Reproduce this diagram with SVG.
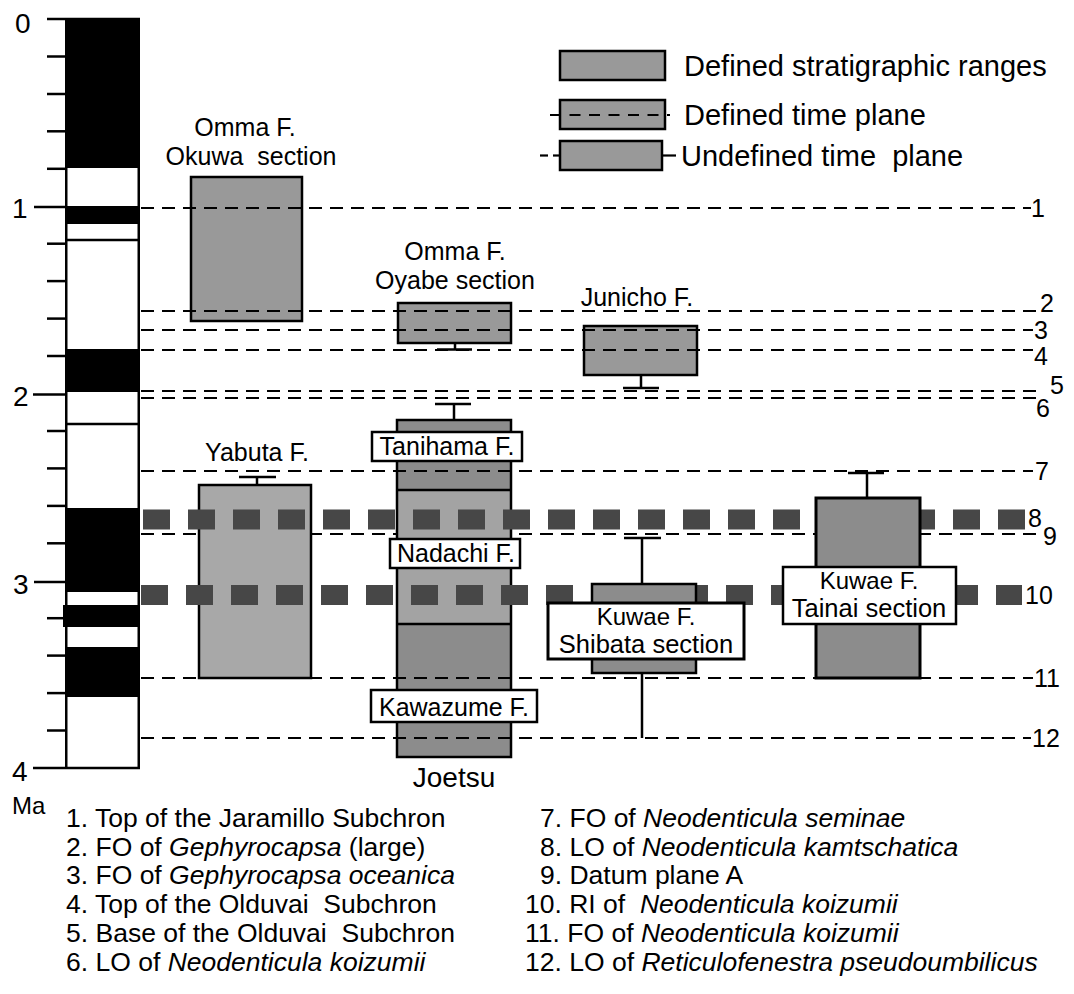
<svg xmlns="http://www.w3.org/2000/svg" width="1074" height="994" viewBox="0 0 1074 994">
<style>
text{font-family:"Liberation Sans",Arial,sans-serif;fill:#000}
.ax{font-size:28px}
.lbl{font-size:25px;text-anchor:middle}
.leg{font-size:29px}
.num{font-size:25px}
.lst{font-size:26.5px}
.it{font-style:italic}
.thin{stroke:#000;stroke-width:2.2;stroke-dasharray:13 8;fill:none}
.band{stroke:#474747;stroke-width:20;stroke-dasharray:27 18;fill:none}
.box{stroke:#000;stroke-width:2.5}
.tk{stroke:#000;stroke-width:2.5}
.wh{stroke:#000;stroke-width:2.5;fill:none}
.lab{fill:#fff;stroke:#000;stroke-width:2.5}
.g1{fill:#999}
.g2{fill:#8c8c8c}
.g3{fill:#a8a8a8}
.g4{fill:#a3a3a3}
</style>
<rect width="1074" height="994" fill="#fff"/>

<g id="axis">
  <g class="tk">
    <line x1="47" y1="19" x2="65" y2="19"/>
    <line x1="47" y1="56.5" x2="65" y2="56.5"/>
    <line x1="47" y1="94" x2="65" y2="94"/>
    <line x1="47" y1="131.3" x2="65" y2="131.3"/>
    <line x1="47" y1="168.8" x2="65" y2="168.8"/>
    <line x1="34" y1="207" x2="65" y2="207"/>
    <line x1="47" y1="243.7" x2="65" y2="243.7"/>
    <line x1="47" y1="281.1" x2="65" y2="281.1"/>
    <line x1="47" y1="318.6" x2="65" y2="318.6"/>
    <line x1="47" y1="356" x2="65" y2="356"/>
    <line x1="33" y1="394.5" x2="65" y2="394.5"/>
    <line x1="47" y1="431" x2="65" y2="431"/>
    <line x1="47" y1="468.4" x2="65" y2="468.4"/>
    <line x1="47" y1="505.9" x2="65" y2="505.9"/>
    <line x1="47" y1="543.3" x2="65" y2="543.3"/>
    <line x1="34" y1="582" x2="65" y2="582"/>
    <line x1="47" y1="618.2" x2="65" y2="618.2"/>
    <line x1="47" y1="655.6" x2="65" y2="655.6"/>
    <line x1="47" y1="693.1" x2="65" y2="693.1"/>
    <line x1="47" y1="730.5" x2="65" y2="730.5"/>
    <line x1="33" y1="768" x2="65" y2="768"/>
  </g>
  <text class="ax" x="15" y="33">0</text>
  <text class="ax" x="12" y="218">1</text>
  <text class="ax" x="13" y="406">2</text>
  <text class="ax" x="13" y="594">3</text>
  <text class="ax" x="12" y="781">4</text>
  <text x="12" y="814" font-size="24">Ma</text>
</g>

<g id="polarity-column">
  <rect x="66.25" y="19" width="72.5" height="749" fill="#fff" stroke="#000" stroke-width="2.5"/>
  <rect x="65" y="19" width="75" height="149" fill="#000"/>
  <rect x="65" y="206" width="75" height="18" fill="#000"/>
  <line x1="66" y1="240" x2="139" y2="240" stroke="#000" stroke-width="2.5"/>
  <rect x="65" y="349" width="75" height="43" fill="#000"/>
  <line x1="66" y1="424" x2="139" y2="424" stroke="#000" stroke-width="2.5"/>
  <rect x="65" y="508" width="75" height="84" fill="#000"/>
  <rect x="63" y="605" width="77" height="22" fill="#000"/>
  <rect x="65" y="647" width="75" height="50" fill="#000"/>
</g>

<g id="legend">
  <rect class="box g1" x="560" y="51" width="105" height="29"/>
  <text class="leg" x="684" y="76">Defined stratigraphic ranges</text>
  <rect class="box g1" x="560" y="100" width="105" height="29"/>
  <line x1="550" y1="115" x2="670" y2="115" stroke="#000" stroke-width="2.2" stroke-dasharray="11 8.5"/>
  <text class="leg" x="684" y="125">Defined time plane</text>
  <rect class="box g1" x="560" y="141" width="102" height="29"/>
  <line x1="540" y1="155.5" x2="548" y2="155.5" stroke="#000" stroke-width="2.2"/>
  <line x1="553" y1="155.5" x2="560" y2="155.5" stroke="#000" stroke-width="2.2"/>
  <line x1="662" y1="155.5" x2="676" y2="155.5" stroke="#000" stroke-width="2.2"/>
  <text class="leg" x="681" y="166">Undefined time&#160; plane</text>
</g>

<g id="time-plane-9">
  <line class="thin" x1="141" y1="534" x2="1036" y2="534"/>
</g>

<g id="omma-okuwa">
  <rect class="box g1" x="191" y="177" width="111" height="144"/>
  <text class="lbl"><tspan x="245" y="136">Omma F.</tspan><tspan x="251" y="165">Okuwa&#160; section</tspan></text>
</g>

<g id="omma-oyabe">
  <rect class="box g1" x="398" y="303" width="113" height="40"/>
  <line class="wh" x1="455" y1="343" x2="455" y2="349.5"/>
  <line class="wh" x1="437" y1="349.5" x2="472" y2="349.5"/>
  <text class="lbl"><tspan x="455" y="260">Omma F.</tspan><tspan x="455" y="289">Oyabe section</tspan></text>
</g>

<g id="junicho">
  <rect class="box g1" x="584" y="326" width="113" height="49"/>
  <line class="wh" x1="641" y1="375" x2="641" y2="388"/>
  <line class="wh" x1="623" y1="388" x2="659" y2="388"/>
  <text class="lbl" x="637" y="306">Junicho F.</text>
</g>

<g id="yabuta">
  <rect class="box g3" x="199" y="485" width="112" height="193"/>
  <line class="wh" x1="257" y1="485" x2="257" y2="477"/>
  <line class="wh" x1="239" y1="477" x2="276" y2="477"/>
  <text class="lbl" x="257" y="461">Yabuta F.</text>
</g>

<g id="joetsu">
  <rect class="g2" x="397" y="420" width="114" height="70"/>
  <rect class="g4" x="397" y="490" width="114" height="134"/>
  <rect class="g2" x="397" y="624" width="114" height="133"/>
  <rect x="397" y="420" width="114" height="337" fill="none" stroke="#000" stroke-width="2.5"/>
  <line class="wh" x1="397" y1="490" x2="511" y2="490"/>
  <line class="wh" x1="397" y1="624" x2="511" y2="624"/>
  <line class="wh" x1="454" y1="420" x2="454" y2="404"/>
  <line class="wh" x1="435" y1="404" x2="471" y2="404"/>
  <text x="454" y="787" font-size="28" text-anchor="middle">Joetsu</text>
</g>

<g id="time-planes">
  <line class="thin" x1="141" y1="208" x2="1031" y2="208"/>
  <line class="thin" x1="141" y1="311" x2="1036" y2="311"/>
  <line class="thin" x1="141" y1="330" x2="1033" y2="330"/>
  <line class="thin" x1="141" y1="350" x2="1033" y2="350"/>
  <line class="thin" x1="141" y1="391" x2="1036" y2="391"/>
  <line class="thin" x1="141" y1="398" x2="1036" y2="398"/>
  <line class="thin" x1="141" y1="471" x2="1033" y2="471"/>
  <line class="thin" x1="141" y1="678" x2="1033" y2="678"/>
  <line class="thin" x1="141" y1="738" x2="1031" y2="738"/>
  <line class="band" x1="143" y1="519.5" x2="1025" y2="519.5"/>
  <line class="band" x1="141" y1="595" x2="1022" y2="595"/>
</g>

<g id="kuwae-shibata">
  <line class="wh" x1="642" y1="584" x2="642" y2="538"/>
  <line class="wh" x1="624" y1="538" x2="661" y2="538"/>
  <line class="wh" x1="642" y1="673" x2="642" y2="738"/>
  <rect class="box g2" x="592" y="584" width="104" height="89"/>
</g>

<g id="kuwae-tainai">
  <line class="wh" x1="867" y1="498" x2="867" y2="473"/>
  <line class="wh" x1="848" y1="473" x2="884" y2="473"/>
  <rect class="g2" x="816" y="498" width="104" height="180" stroke="#000" stroke-width="3"/>
</g>

<g id="formation-labels">
  <g id="tanihama-label">
    <rect class="lab" x="372" y="432" width="150" height="29"/>
    <text class="lbl" x="447" y="455">Tanihama F.</text>
  </g>
  <g id="nadachi-label">
    <rect class="lab" x="390" y="539" width="130" height="29"/>
    <text class="lbl" x="456" y="562">Nadachi F.</text>
  </g>
  <g id="kawazume-label">
    <rect class="lab" x="371" y="690" width="166" height="32"/>
    <text class="lbl" x="454" y="716">Kawazume F.</text>
  </g>
  <g id="shibata-label">
    <rect x="548" y="603" width="196" height="56" fill="#fff" stroke="#000" stroke-width="3"/>
    <text class="lbl"><tspan x="646" y="625" style="font-size:24px">Kuwae F.</tspan><tspan x="646" y="653" style="font-size:25.5px">Shibata section</tspan></text>
  </g>
  <g id="tainai-label">
    <rect x="783" y="567" width="173" height="57" fill="#fff" stroke="#000" stroke-width="2.5"/>
    <text class="lbl"><tspan x="869" y="589" style="font-size:24px">Kuwae F.</tspan><tspan x="869" y="617" style="font-size:25.5px">Tainai section</tspan></text>
  </g>
</g>

<g id="plane-numbers">
  <text class="num" x="1031" y="217">1</text>
  <text class="num" x="1040" y="312">2</text>
  <text class="num" x="1034" y="339">3</text>
  <text class="num" x="1034" y="365">4</text>
  <text class="num" x="1050" y="394">5</text>
  <text class="num" x="1036" y="417">6</text>
  <text class="num" x="1035" y="480">7</text>
  <text class="num" x="1028" y="527">8</text>
  <text class="num" x="1043" y="545">9</text>
  <text class="num" x="1025" y="604">10</text>
  <text class="num" x="1034" y="687">11</text>
  <text class="num" x="1032" y="747">12</text>
</g>

<g id="list">
  <text class="lst" x="66" y="827">1. Top of the Jaramillo Subchron</text>
  <text class="lst" x="66" y="856">2. FO of <tspan class="it">Gephyrocapsa</tspan> (large)</text>
  <text class="lst" x="66" y="884">3. FO of <tspan class="it">Gephyrocapsa oceanica</tspan></text>
  <text class="lst" x="66" y="913">4. Top of the Olduvai&#160; Subchron</text>
  <text class="lst" x="66" y="942">5. Base of the Olduvai&#160; Subchron</text>
  <text class="lst" x="66" y="971">6. LO of <tspan class="it">Neodenticula koizumii</tspan></text>
  <text class="lst" x="540" y="827">7. FO of <tspan class="it">Neodenticula seminae</tspan></text>
  <text class="lst" x="540" y="856">8. LO of <tspan class="it">Neodenticula kamtschatica</tspan></text>
  <text class="lst" x="540" y="884">9. Datum plane A</text>
  <text class="lst" x="525" y="913">10. RI of&#160; <tspan class="it">Neodenticula koizumii</tspan></text>
  <text class="lst" x="525" y="942">11. FO of <tspan class="it">Neodenticula koizumii</tspan></text>
  <text class="lst" x="525" y="971">12. LO of <tspan class="it">Reticulofenestra pseudoumbilicus</tspan></text>
</g>
</svg>
